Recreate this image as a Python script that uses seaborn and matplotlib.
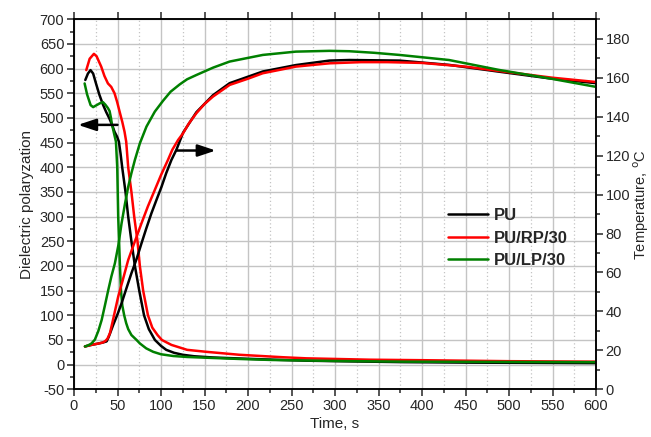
import numpy as np
import pandas as pd
import matplotlib
matplotlib.use("Agg")
import matplotlib.pyplot as plt
from matplotlib.ticker import MultipleLocator
import seaborn as sns

# ---- samples -------------------------------------------------------------
samples = ["PU", "PU/RP/30", "PU/LP/30"]
colors = {"PU": "#000000", "PU/RP/30": "#ff0000", "PU/LP/30": "#008000"}

# dielectric polarization vs time
pu_pol_t = [13, 16, 19, 22, 25.6, 29, 33.3, 37, 40.9, 44, 46.6, 49.5, 51.6, 53.5, 55.4,
            57.3, 59.2, 62.3, 66, 70, 75, 80.5, 86, 93, 100, 106, 115, 125, 138, 160,
            190, 230, 267, 320, 380, 458, 530, 600]
pu_pol_v = [577, 590, 597, 590, 568, 548, 527, 512, 498, 485, 472, 462, 452, 428, 400,
            375, 350, 300, 250, 200, 150, 100, 72, 50, 38, 30, 24, 20, 17, 14.5,
            12.5, 10, 8, 6.5, 5, 4, 3.5, 3]

rp_pol_t = [14.1, 18, 22.9, 26, 28.5, 31.3, 35, 39, 42.8, 46.6, 49.5, 52.4, 55.5, 58.1,
            60, 62.3, 66, 69.2, 73, 75.7, 79.5, 85, 90, 96, 101, 112, 130, 152, 190,
            240, 267, 340, 400, 500, 600]
rp_pol_v = [597, 620, 630, 625, 615, 604, 585, 570, 563, 550, 533, 513, 492, 472,
            452, 400, 350, 300, 250, 200, 150, 100, 75, 60, 50, 40, 30, 26, 20,
            15, 12.8, 10, 9, 7, 6]

lp_pol_t = [12.2, 15, 19.1, 22, 26, 30, 33.3, 36, 39, 40.9, 42.5, 43.5, 44.7, 46.5,
            48.2, 49.7, 50.8, 52.8, 54, 55.5, 57.7, 60, 62.3, 66, 71.9, 75.7, 83, 91,
            100, 114, 130, 152, 190, 228, 300, 381, 480, 600]
lp_pol_v = [570, 548, 526, 522, 526, 530, 532, 527, 520, 514, 500, 488, 479, 465,
            452, 400, 300, 200, 150, 120, 100, 84, 72, 60, 50, 43, 33, 26,
            21, 17.5, 15.5, 14, 11.5, 9.4, 7.5, 6, 5.5, 5]

# temperature vs time
pu_temp_t = [12.6, 20, 28, 33, 37.5, 40, 45, 50, 54.7, 60, 66, 72, 77.6, 83, 89, 95,
             100.6, 106, 112, 117.7, 125.4, 140.7, 159.7, 178.9, 217, 255, 293.6,
             316.5, 374, 431, 488.5, 546, 600]
pu_temp_v = [22, 22.8, 23.5, 24, 24.6, 27, 33, 38.5, 44.2, 51.5, 59.6, 67, 75, 82.5,
             90.4, 97.5, 104, 111, 117.8, 123, 131.8, 142.3, 151, 157.2, 163.2,
             166.5, 168.8, 169.1, 168.8, 166.6, 163.1, 159.7, 157.2]

rp_temp_t = [12.6, 20, 28, 33, 36, 38.5, 41.3, 44, 47, 50.8, 56, 62.3, 70, 77.6, 85,
             92.9, 100, 108, 113, 119.6, 125.4, 132, 140.7, 150, 159.7, 178.9, 200,
             217, 255, 293.6, 330, 360, 400, 450, 500, 550, 600]
rp_temp_v = [22, 22.8, 23.5, 24, 24.8, 26, 28.8, 34, 40, 47.6, 56, 66.4, 76, 85.3, 94,
             102.4, 110, 117.8, 123, 128, 131.5, 136.5, 141.8, 146.5, 150.3, 156.3,
             159.5, 162.3, 165.7, 167.4, 168, 168, 167.6, 165.7, 162.8, 160, 157.8]

lp_temp_t = [12.6, 16, 20, 24, 28, 31.8, 35.5, 39.4, 43, 47, 51, 54.7, 58.5, 62.3, 66,
             70, 75.7, 83.3, 92.9, 102.4, 111, 121.6, 130, 140.7, 160, 178.9, 217, 255,
             293.6, 316.5, 345, 374, 431, 488.5, 546, 600]
lp_temp_v = [22, 22.5, 23.5, 25.5, 30, 35.6, 43, 51, 58, 64.7, 74, 85.3, 95, 104, 111,
             117.8, 126.3, 134.9, 142.6, 148.2, 152.8, 156.6, 159.2, 161.4, 165.2, 168.3,
             171.7, 173.4, 173.8, 173.6, 172.8, 171.7, 169.1, 164, 159.7, 155.3]


def long_frame(series):
    parts = [pd.DataFrame({"time": t, "value": v, "sample": name}) for name, t, v in series]
    return pd.concat(parts, ignore_index=True)


pol = long_frame([("PU", pu_pol_t, pu_pol_v),
                  ("PU/RP/30", rp_pol_t, rp_pol_v),
                  ("PU/LP/30", lp_pol_t, lp_pol_v)])
temp = long_frame([("PU", pu_temp_t, pu_temp_v),
                   ("PU/RP/30", rp_temp_t, rp_temp_v),
                   ("PU/LP/30", lp_temp_t, lp_temp_v)])

# ---- style ---------------------------------------------------------------
sns.set_style("ticks")
plt.rcParams["font.family"] = ["Liberation Sans", "DejaVu Sans"]
plt.rcParams["axes.linewidth"] = 1.1
plt.rcParams["axes.unicode_minus"] = False

fig = plt.figure(figsize=(6.51, 4.37), dpi=100)
ax = fig.add_axes([74 / 651, 1 - 389.3 / 437, 522 / 651, 370 / 437])
ax2 = ax.twinx()

grid_c = "#c4c4c4"
ax.set_axisbelow(True)
ax.grid(which="major", color=grid_c, lw=1.0)
ax.grid(which="minor", axis="x", color=grid_c, lw=0.9, ls=(0, (1, 2)))

lw = 1.8
sns.lineplot(data=pol, x="time", y="value", hue="sample", hue_order=samples,
             palette=colors, estimator=None, sort=False, lw=lw, ax=ax, legend=False)
sns.lineplot(data=temp, x="time", y="value", hue="sample", hue_order=samples,
             palette=colors, estimator=None, sort=False, lw=lw, ax=ax2, legend=True)

# axes ranges and ticks
ax.set_xlim(0, 600)
ax.set_ylim(-50, 700)
ax.xaxis.set_major_locator(MultipleLocator(50))
ax.xaxis.set_minor_locator(MultipleLocator(25))
ax.yaxis.set_major_locator(MultipleLocator(50))
ax.yaxis.set_minor_locator(MultipleLocator(25))
ax2.set_ylim(0, 190)
ax2.yaxis.set_major_locator(MultipleLocator(20))
ax2.yaxis.set_minor_locator(MultipleLocator(10))

tick_fs = 10.5
ax.tick_params(axis="both", which="major", direction="out", length=5, width=1.1,
               labelsize=tick_fs, pad=2, top=True)
ax.tick_params(axis="both", which="minor", direction="out", length=3, width=1.1)
ax.tick_params(axis="x", which="minor", top=False)
ax2.tick_params(axis="y", which="major", direction="out", length=5, width=1.1,
                labelsize=tick_fs, pad=2)
ax2.tick_params(axis="y", which="minor", direction="out", length=3, width=1.1)

for a in (ax, ax2):
    for s in a.spines.values():
        s.set_visible(True)
        s.set_linewidth(1.1)
        s.set_color("black")

ax.set_xlabel("Time, s", fontsize=11, labelpad=3)
ax.set_ylabel("Dielectric polaryzation", fontsize=11, labelpad=4)
ax2.set_ylabel("Temperature, $^{\\mathrm{o}}$C", fontsize=10.5)
ax2.yaxis.set_label_coords(1.068, 0.5)

# arrows showing which axis each family of curves belongs to
arrow_kw = dict(arrowstyle="-|>,head_length=0.9,head_width=0.3", color="black",
                lw=1.8, mutation_scale=12, shrinkA=0, shrinkB=0)
ax.annotate("", xy=(4.6, 486), xytext=(50, 486), arrowprops=arrow_kw)
ax.annotate("", xy=(163, 434), xytext=(117.7, 434), arrowprops=arrow_kw)

leg = ax2.legend(loc="upper left", bbox_to_anchor=(0.716, 0.49), frameon=False,
                 handlelength=2.4, handletextpad=0.35, labelspacing=0.45,
                 borderaxespad=0, borderpad=0,
                 prop={"weight": "bold", "size": 12})
for h in leg.get_lines():
    h.set_linewidth(1.8)

fig.savefig("out.png", dpi=100)
